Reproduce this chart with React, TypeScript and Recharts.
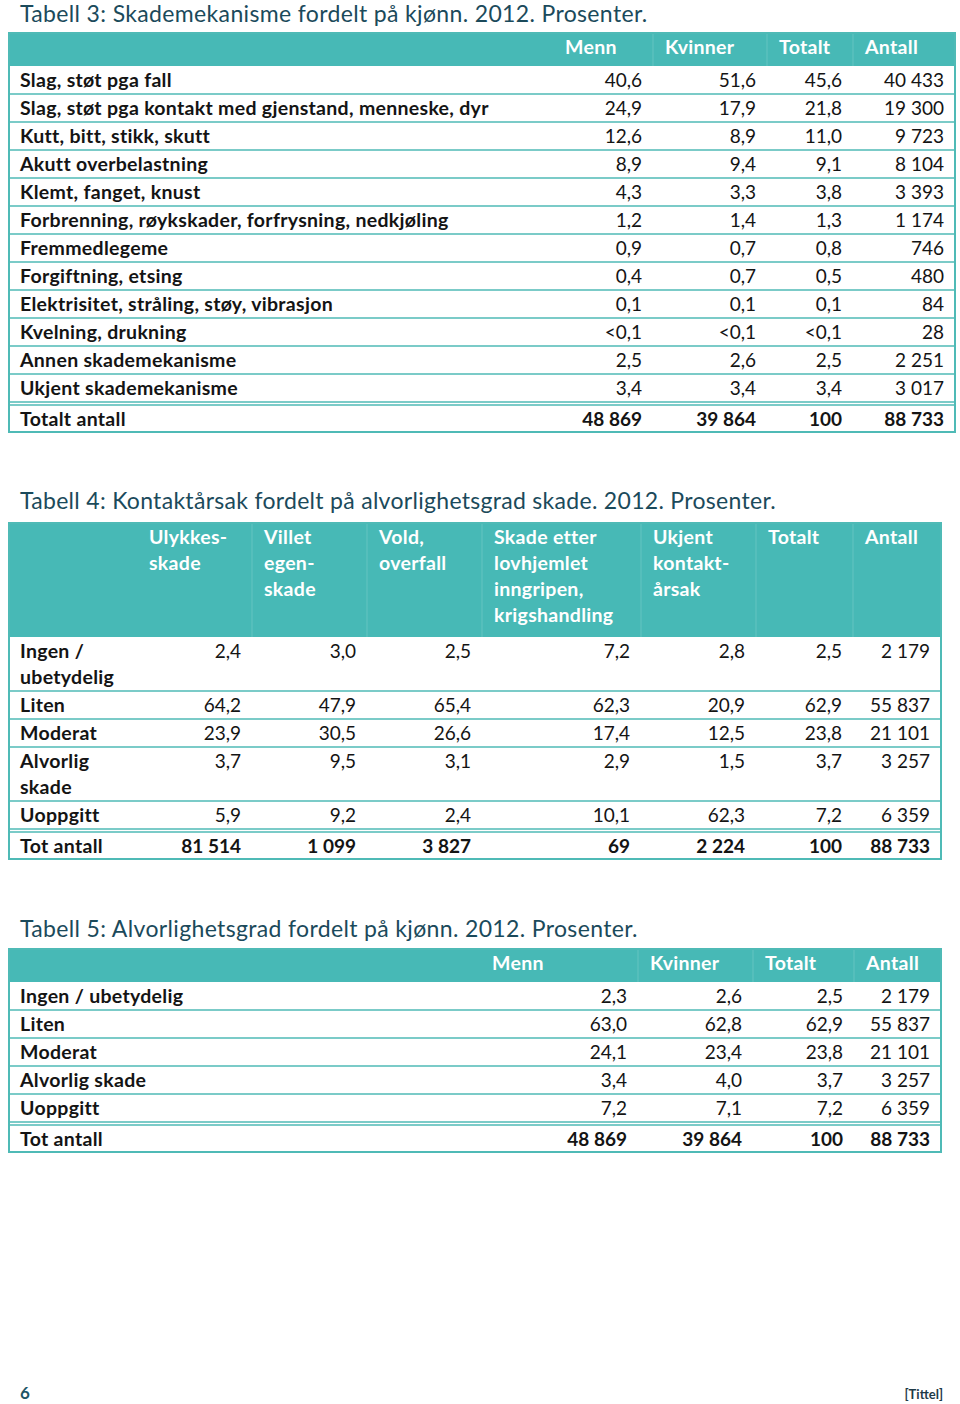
import React from 'react';
import { Surface, Layer, Rectangle, Text } from 'recharts';

// ---------- Data ----------
const t3Title = 'Tabell 3: Skademekanisme fordelt på kjønn. 2012. Prosenter.';
const t3Columns = [['Menn'], ['Kvinner'], ['Totalt'], ['Antall']];
const t3Categories = [
  'Slag, støt pga fall',
  'Slag, støt pga kontakt med gjenstand, menneske, dyr',
  'Kutt, bitt, stikk, skutt',
  'Akutt overbelastning',
  'Klemt, fanget, knust',
  'Forbrenning, røykskader, forfrysning, nedkjøling',
  'Fremmedlegeme',
  'Forgiftning, etsing',
  'Elektrisitet, stråling, støy, vibrasjon',
  'Kvelning, drukning',
  'Annen skademekanisme',
  'Ukjent skademekanisme',
];
// null = "<0,1"
const t3Menn = [40.6, 24.9, 12.6, 8.9, 4.3, 1.2, 0.9, 0.4, 0.1, null, 2.5, 3.4];
const t3Kvinner = [51.6, 17.9, 8.9, 9.4, 3.3, 1.4, 0.7, 0.7, 0.1, null, 2.6, 3.4];
const t3Totalt = [45.6, 21.8, 11.0, 9.1, 3.8, 1.3, 0.8, 0.5, 0.1, null, 2.5, 3.4];
const t3Antall = [40433, 19300, 9723, 8104, 3393, 1174, 746, 480, 84, 28, 2251, 3017];
const t3TotalLabel = 'Totalt antall';
const t3Totals = [48869, 39864, 100, 88733];

const t4Title = 'Tabell 4: Kontaktårsak fordelt på alvorlighetsgrad skade. 2012. Prosenter.';
const t4Columns = [
  ['Ulykkes-', 'skade'],
  ['Villet', 'egen-', 'skade'],
  ['Vold,', 'overfall'],
  ['Skade etter', 'lovhjemlet', 'inngripen,', 'krigshandling'],
  ['Ukjent', 'kontakt-', 'årsak'],
  ['Totalt'],
  ['Antall'],
];
const t4Categories = [['Ingen /', 'ubetydelig'], ['Liten'], ['Moderat'], ['Alvorlig', 'skade'], ['Uoppgitt']];
const t4Ulykke = [2.4, 64.2, 23.9, 3.7, 5.9];
const t4Villet = [3.0, 47.9, 30.5, 9.5, 9.2];
const t4Vold = [2.5, 65.4, 26.6, 3.1, 2.4];
const t4Lovhjemlet = [7.2, 62.3, 17.4, 2.9, 10.1];
const t4Ukjent = [2.8, 20.9, 12.5, 1.5, 62.3];
const t4Totalt = [2.5, 62.9, 23.8, 3.7, 7.2];
const t4Antall = [2179, 55837, 21101, 3257, 6359];
const t4TotalLabel = 'Tot antall';
const t4Totals = [81514, 1099, 3827, 69, 2224, 100, 88733];

const t5Title = 'Tabell 5: Alvorlighetsgrad fordelt på kjønn. 2012. Prosenter.';
const t5Columns = [['Menn'], ['Kvinner'], ['Totalt'], ['Antall']];
const t5Categories = [['Ingen / ubetydelig'], ['Liten'], ['Moderat'], ['Alvorlig skade'], ['Uoppgitt']];
const t5Menn = [2.3, 63.0, 24.1, 3.4, 7.2];
const t5Kvinner = [2.6, 62.8, 23.4, 4.0, 7.1];
const t5Totalt = [2.5, 62.9, 23.8, 3.7, 7.2];
const t5Antall = [2179, 55837, 21101, 3257, 6359];
const t5TotalLabel = 'Tot antall';
const t5Totals = [48869, 39864, 100, 88733];

const pageNumber = '6';
const footerTitle = '[Tittel]';

// ---------- Style ----------
const FONT = 'Lato, Carlito, "Open Sans", sans-serif';
const HEAD_FILL = '#47b9b6';
const LINE = '#4fbab6';
const HEAD_DIV = '#64c4c1';
const TITLE_COLOR = '#1b4a5b';
const BODY = '#141414';
const FS = 19.5;
const NUM_FS = 19;
const LS = 0.3;
const TITLE_FS = 23;

const pct = (v: number | null) => (v === null ? '<0,1' : v.toFixed(1).replace('.', ','));
const int = (v: number) => String(v).replace(/\B(?=(\d{3})+(?!\d))/g, ' ');

type Row = { lines: string[]; cells: string[]; h: number };

interface TableProps {
  top: number;
  left: number;
  right: number;
  cols: number[]; // left edges of value columns
  headerH: number;
  headers: string[][];
  rows: Row[];
  totalLabel: string;
  totalCells: string[];
  totalH: number;
}

function Table({ top, left, right, cols, headerH, headers, rows, totalLabel, totalCells, totalH }: TableProps) {
  const edges = [...cols, right];
  const els: React.ReactNode[] = [];
  els.push(<Rectangle key="hf" x={left} y={top} width={right - left} height={headerH} fill={HEAD_FILL} />);
  cols.forEach((c, i) => {
    if (i > 0) els.push(<line key={`hd${i}`} x1={c} x2={c} y1={top} y2={top + headerH} stroke={HEAD_DIV} strokeWidth={1} />);
  });
  headers.forEach((lines, ci) =>
    lines.forEach((ln, li) =>
      els.push(
        <Text key={`h${ci}-${li}`} x={cols[ci] + 12} y={top + 21.3 + li * 26} fill="#ffffff" fontFamily={FONT} fontWeight={700} fontSize={FS} letterSpacing={LS}>
          {ln}
        </Text>
      )
    )
  );
  let y = top + headerH;
  rows.forEach((r, ri) => {
    r.lines.forEach((ln, li) =>
      els.push(
        <Text key={`l${ri}-${li}`} x={left + 11} y={y + 21.4 + li * 26} fill={BODY} fontFamily={FONT} fontWeight={700} fontSize={FS} letterSpacing={LS}>
          {ln}
        </Text>
      )
    );
    r.cells.forEach((c, ci) =>
      els.push(
        <Text key={`c${ri}-${ci}`} x={edges[ci + 1] - 11} y={y + 21.4} textAnchor="end" fill={BODY} fontFamily={FONT} fontSize={NUM_FS}>
          {c}
        </Text>
      )
    );
    y += r.h;
    if (ri < rows.length - 1) {
      els.push(<line key={`s${ri}`} x1={left} x2={right} y1={y} y2={y} stroke={LINE} strokeWidth={1.6} />);
    }
  });
  els.push(<line key="d1" x1={left} x2={right} y1={y} y2={y} stroke={LINE} strokeWidth={1.3} />);
  y += 3;
  els.push(<line key="d2" x1={left} x2={right} y1={y} y2={y} stroke={LINE} strokeWidth={1.3} />);
  els.push(
    <Text key="tl" x={left + 11} y={y + 20.8} fill={BODY} fontFamily={FONT} fontWeight={700} fontSize={FS} letterSpacing={LS}>
      {totalLabel}
    </Text>
  );
  totalCells.forEach((c, ci) =>
    els.push(
      <Text key={`t${ci}`} x={edges[ci + 1] - 11} y={y + 20.8} textAnchor="end" fill={BODY} fontFamily={FONT} fontWeight={700} fontSize={NUM_FS}>
        {c}
      </Text>
    )
  );
  y += totalH;
  els.push(<Rectangle key="ob" x={left} y={top} width={right - left} height={y - top} fill="none" stroke={LINE} strokeWidth={2} />);
  return <Layer>{els}</Layer>;
}

export default function App() {
  const t3Rows: Row[] = t3Categories.map((c, i) => ({
    lines: [c],
    cells: [pct(t3Menn[i]), pct(t3Kvinner[i]), pct(t3Totalt[i]), int(t3Antall[i])],
    h: 28,
  }));
  const t4Rows: Row[] = t4Categories.map((c, i) => ({
    lines: c,
    cells: [
      pct(t4Ulykke[i]),
      pct(t4Villet[i]),
      pct(t4Vold[i]),
      pct(t4Lovhjemlet[i]),
      pct(t4Ukjent[i]),
      pct(t4Totalt[i]),
      int(t4Antall[i]),
    ],
    h: c.length > 1 ? 54 : 28,
  }));
  const t5Rows: Row[] = t5Categories.map((c, i) => ({
    lines: c,
    cells: [pct(t5Menn[i]), pct(t5Kvinner[i]), pct(t5Totalt[i]), int(t5Antall[i])],
    h: 28,
  }));

  return (
    <div style={{ position: 'absolute', left: 0, top: 0, width: 960, height: 1404, background: '#ffffff' }}>
      <Surface width={960} height={1404}>
        <Text x={20} y={22} fill={TITLE_COLOR} fontFamily={FONT} fontSize={TITLE_FS} letterSpacing={0.35}>
          {t3Title}
        </Text>
        <Table
          top={33}
          left={9}
          right={955}
          cols={[553, 653, 767, 853]}
          headerH={33}
          headers={t3Columns}
          rows={t3Rows}
          totalLabel={t3TotalLabel}
          totalCells={t3Totals.map(int)}
          totalH={27}
        />
        <Text x={20} y={509.3} fill={TITLE_COLOR} fontFamily={FONT} fontSize={TITLE_FS} letterSpacing={0.3}>
          {t4Title}
        </Text>
        <Table
          top={523}
          left={9}
          right={941}
          cols={[137, 252, 367, 482, 641, 756, 853]}
          headerH={114}
          headers={t4Columns}
          rows={t4Rows}
          totalLabel={t4TotalLabel}
          totalCells={t4Totals.map(int)}
          totalH={27}
        />
        <Text x={20} y={936.7} fill={TITLE_COLOR} fontFamily={FONT} fontSize={TITLE_FS} letterSpacing={0.35}>
          {t5Title}
        </Text>
        <Table
          top={949}
          left={9}
          right={941}
          cols={[480, 638, 753, 854]}
          headerH={33}
          headers={t5Columns}
          rows={t5Rows}
          totalLabel={t5TotalLabel}
          totalCells={t5Totals.map(int)}
          totalH={27}
        />
        <Text x={20} y={1399} fill="#1e5566" fontFamily={FONT} fontWeight={700} fontSize={17}>
          {pageNumber}
        </Text>
        <Text x={943} y={1399} textAnchor="end" fill="#1e3a48" fontFamily={FONT} fontWeight={700} fontSize={13}>
          {footerTitle}
        </Text>
      </Surface>
    </div>
  );
}
